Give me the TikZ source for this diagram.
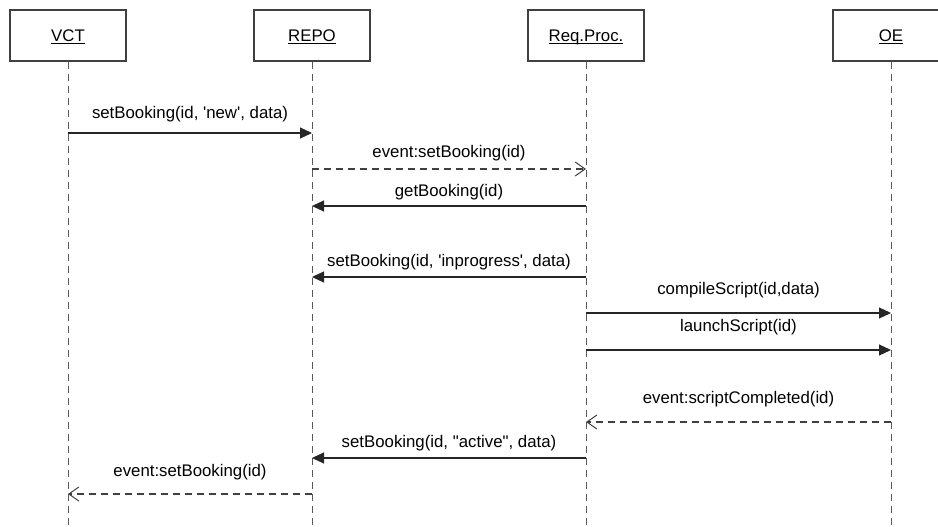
\documentclass[tikz,border=0pt]{standalone}
\usepackage{fontspec}
\setmainfont{Liberation Sans}
\usetikzlibrary{arrows.meta}
\newcommand\objname[1]{\underline{\smash{#1}}}
\newcommand\sq{\textquotesingle}
\newcommand\dq{\textquotedbl}
\begin{document}
\begin{tikzpicture}[x=1pt,y=-1pt,
  obj/.style={draw=black!75, line width=1.1pt, fill=white,
    minimum width=116pt, minimum height=51pt, inner sep=0pt,
    text height=12pt, text depth=0pt, font=\fontsize{16.8}{20}\selectfont},
  life/.style={draw=black!65, line width=1pt, dash pattern=on 7pt off 5pt},
  call/.style={draw=black!85, line width=1.1pt,
    -{Triangle[length=12pt,width=11pt]}},
  reply/.style={draw=black!75, line width=1.1pt, dash pattern=on 7pt off 5pt,
    -{Straight Barb[length=10pt,width=14pt,line width=1pt]}},
  lbl/.style={font=\fontsize{16.8}{20}\selectfont, inner sep=0pt, anchor=base}
]
\useasboundingbox (0,0) rectangle (938,527);
\clip (0,0) rectangle (938,527);
\fill[white] (0,0) rectangle (938,527);

% participants
\node[obj] (VCT)  at (68,35.5)  {\objname{VCT}};
\node[obj] (REPO) at (312,35.5) {\objname{REPO}};
\node[obj] (RP)   at (586,35.5) {\objname{Req.Proc.}};
\node[obj] (OE)   at (891,35.5) {\objname{OE}};

% lifelines
\coordinate (bottom) at (0,540);
\foreach \p in {VCT,REPO,RP,OE}
  \draw[life] (\p.south) -- (\p |- bottom);

% message rows
\coordinate (r1) at (0,133);
\coordinate (r2) at (0,169);
\coordinate (r3) at (0,206);
\coordinate (r4) at (0,277);
\coordinate (r5) at (0,313);
\coordinate (r6) at (0,350);
\coordinate (r7) at (0,422);
\coordinate (r8) at (0,458);
\coordinate (r9) at (0,494);

% messages
\draw[call] (VCT |- r1) -- node[lbl, yshift=15pt] {setBooking(id, \sq new\sq, data)} (REPO |- r1);
\draw[reply] (REPO |- r2) -- node[lbl, yshift=11.5pt] {event:setBooking(id)} (RP |- r2);
\draw[call] (RP |- r3) -- node[lbl, yshift=9.5pt] {getBooking(id)} (REPO |- r3);
\draw[call] (RP |- r4) -- node[lbl, yshift=10.5pt] {setBooking(id, \sq inprogress\sq, data)} (REPO |- r4);
\draw[call] (RP |- r5) -- node[lbl, yshift=18.5pt] {compileScript(id,data)} (OE |- r5);
\draw[call] (RP |- r6) -- node[lbl, yshift=18.5pt] {launchScript(id)} (OE |- r6);
\draw[reply] (OE |- r7) -- node[lbl, yshift=18.5pt] {event:scriptCompleted(id)} (RP |- r7);
\draw[call] (RP |- r8) -- node[lbl, yshift=10.5pt] {setBooking(id, \dq active\dq, data)} (REPO |- r8);
\draw[reply] (REPO |- r9) -- node[lbl, yshift=17.5pt] {event:setBooking(id)} (VCT |- r9);
\end{tikzpicture}
\end{document}
